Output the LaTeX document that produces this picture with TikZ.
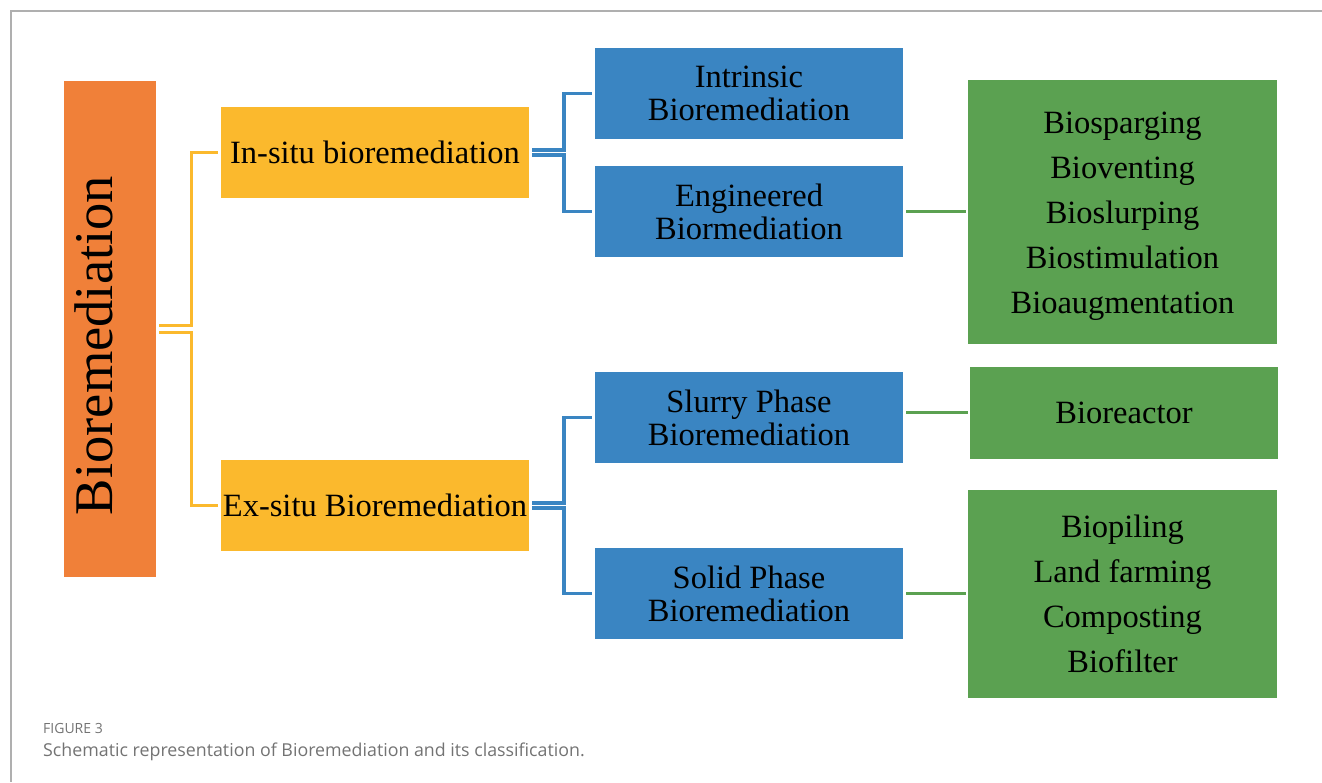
\documentclass[tikz,border=0pt]{standalone}
\usepackage{fontspec}
\setmainfont{Liberation Serif}
\newfontfamily\capfont{Open Sans}
\usetikzlibrary{calc}
\definecolor{rootcol}{RGB}{240,128,57}
\definecolor{sitecol}{RGB}{251,185,45}
\definecolor{kindcol}{RGB}{58,133,194}
\definecolor{techcol}{RGB}{91,161,81}
\definecolor{framecol}{RGB}{175,175,175}
\definecolor{capcol}{RGB}{115,115,115}
\tikzset{
  root/.style={fill=rootcol, minimum width=92pt, minimum height=496pt, inner sep=0pt},
  site/.style={fill=sitecol, minimum width=308pt, minimum height=91pt, inner sep=0pt, font=\fontsize{32.5}{33}\selectfont},
  kind/.style={fill=kindcol, minimum width=308pt, minimum height=91pt, inner sep=0pt, align=center, font=\fontsize{32.5}{33}\selectfont},
  tech/.style={fill=techcol, minimum width=309pt, minimum height=#1, inner sep=0pt, align=center, font=\fontsize{32.5}{45}\selectfont},
  sitelink/.style={draw=sitecol, line width=3pt, shorten <=3pt, shorten >=3pt},
  kindlink/.style={draw=kindcol, line width=3.5pt, shorten <=3pt, shorten >=3pt},
  techlink/.style={draw=techcol, line width=3pt, shorten <=3pt, shorten >=2pt},
  caption/.style={anchor=base west, inner sep=0pt, text=capcol},
}

\begin{document}
\begin{tikzpicture}[x=1pt, y=-1pt]
  \useasboundingbox (0,0) rectangle (1322,782);
  \draw[framecol, line width=1.3pt] (1322,11) -- (11,11) -- (11,782);
  % boxes
  \node[root] (bio) at (110,329) {};
  \node[rotate=90, anchor=base, inner sep=0pt, font=\fontsize{54.5}{60}\selectfont] (biotext) at (112,345.5) {Bioremediation};
  \node[site] (insitu) at (375,152.5) {In-situ bioremediation};
  \node[site] (exsitu) at (375,505.5) {Ex-situ Bioremediation};
  \node[kind] (intr) at (749,93.5) {Intrinsic\\Bioremediation};
  \node[kind] (engi) at (749,211.5) {Engineered\\Biormediation};
  \node[kind] (slurry) at (749,417.5) {Slurry Phase\\Bioremediation};
  \node[kind] (solid) at (749,593.5) {Solid Phase\\Bioremediation};
  \node[tech=264pt] (insitutech) at (1122.5,212) {\rule{0pt}{30pt}Biosparging\\Bioventing\\Bioslurping\\Biostimulation\\Bioaugmentation};
  \node[tech=92pt, minimum width=308pt] (reactor) at (1124,413) {Bioreactor};
  \node[tech=208pt] (solidtech) at (1122.5,594) {Biopiling\\Land farming\\Composting\\Biofilter};
  % connectors
  \draw[sitelink] ($(bio.east)+(0,-3.5)$) -- ++(35,0) |- (insitu.west);
  \draw[sitelink] ($(bio.east)+(0,3.5)$) -- ++(35,0) |- (exsitu.west);
  \draw[kindlink] ($(insitu.east)+(0,-2.5)$) -- ++(35,0) |- (intr.west);
  \draw[kindlink] ($(insitu.east)+(0,2.5)$) -- ++(35,0) |- (engi.west);
  \draw[kindlink] ($(exsitu.east)+(0,-2.5)$) -- ++(35,0) |- (slurry.west);
  \draw[kindlink] ($(exsitu.east)+(0,2.5)$) -- ++(35,0) |- (solid.west);
  \draw[techlink] (engi.east) -- (engi.east -| insitutech.west);
  \draw[techlink] ($(slurry.east)+(0,-5)$) -- ($(reactor.west)+(0,-0.5)$);
  \draw[techlink] (solid.east) -- (solid.east -| solidtech.west);
  % caption
  \node[caption, font=\capfont\fontsize{14}{16}\selectfont] (fig) at (43,733) {FIGURE 3};
  \node[caption, font=\capfont\fontsize{17.8}{20}\selectfont] (captext) at (43,756) {Schematic representation of Bioremediation and its classification.};
\end{tikzpicture}
\end{document}
